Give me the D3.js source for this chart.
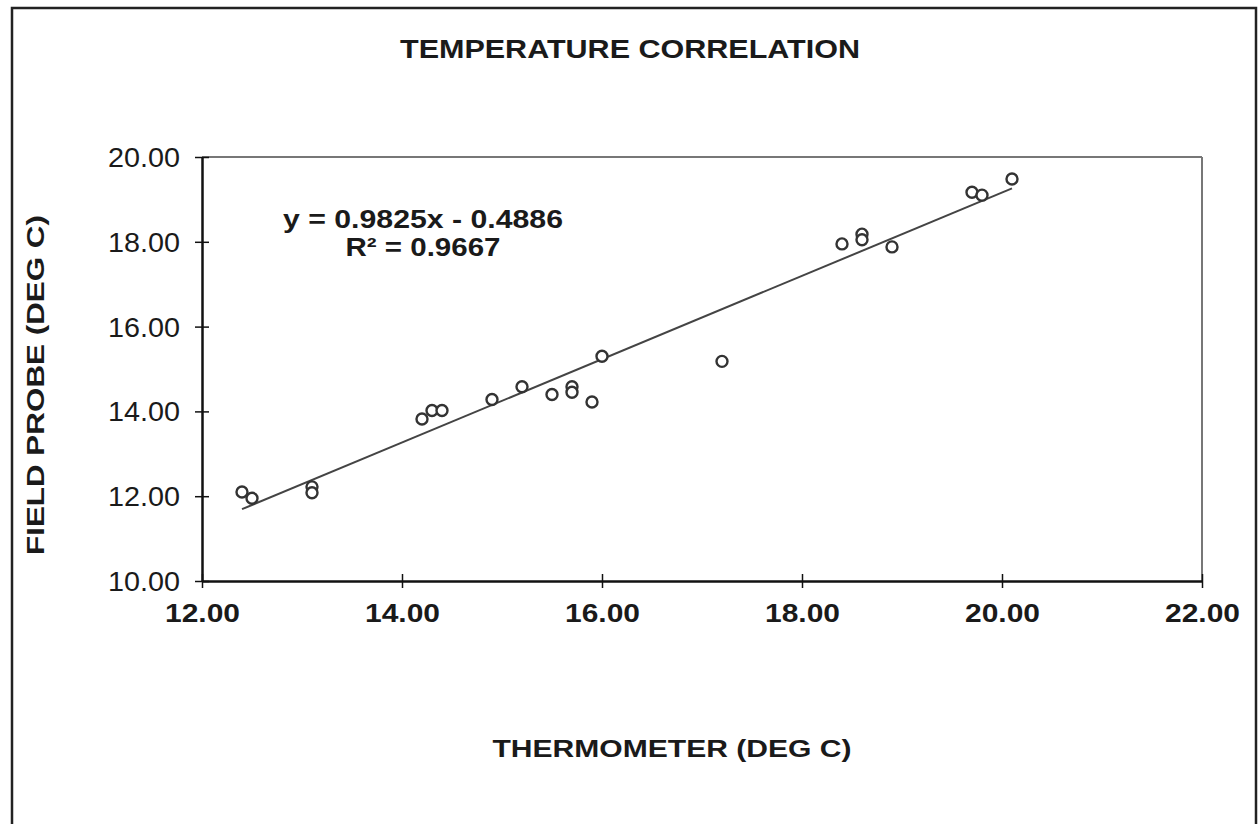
<!DOCTYPE html>
<html>
<head>
<meta charset="utf-8">
<script src="https://cdn.jsdelivr.net/npm/d3@7"></script>
<style>
  html, body { margin: 0; padding: 0; background: #fff; }
  svg { display: block; }
  text { font-family: Arial, "Liberation Sans", sans-serif; fill: #1a1a1a; }
</style>
</head>
<body>
<svg id="chart" width="1258" height="824"></svg>
<script>
// ---- data ----
const thermometer = [12.40, 12.50, 13.10, 13.10, 14.20, 14.30, 14.40, 14.90, 15.20, 15.50, 15.70, 15.70, 15.90, 16.00, 17.20, 18.40, 18.60, 18.60, 18.90, 19.70, 19.80, 20.10];
const fieldProbe  = [12.10, 11.95, 12.22, 12.08, 13.82, 14.02, 14.02, 14.28, 14.58, 14.40, 14.58, 14.45, 14.22, 15.30, 15.18, 17.95, 18.18, 18.05, 17.88, 19.17, 19.10, 19.48];
const xTicks = [12, 14, 16, 18, 20, 22];
const yTicks = [10, 12, 14, 16, 18, 20];
const slope = 0.9825, intercept = -0.4886, r2 = 0.9667;
const titleText = "TEMPERATURE CORRELATION";
const xLabel = "THERMOMETER (DEG C)";
const yLabel = "FIELD PROBE (DEG C)";

const svg = d3.select("#chart");
const plot = {left: 202, right: 1202, top: 157, bottom: 581};

const x = d3.scaleLinear().domain([12, 22]).range([plot.left, plot.right]);
const y = d3.scaleLinear().domain([10, 20]).range([plot.bottom, plot.top]);

// outer frame
svg.append("rect").attr("x", 12).attr("y", 8).attr("width", 1244).attr("height", 830)
  .attr("fill", "none").attr("stroke", "#222").attr("stroke-width", 2.5);

// title
svg.append("text").attr("x", 630).attr("y", 58).attr("text-anchor", "middle")
  .attr("font-size", 26).attr("font-weight", "bold")
  .attr("textLength", 460).attr("lengthAdjust", "spacingAndGlyphs").text(titleText);

// plot border top/right (grey)
svg.append("line").attr("x1", plot.left).attr("x2", plot.right).attr("y1", plot.top).attr("y2", plot.top)
  .attr("stroke", "#777").attr("stroke-width", 2);
svg.append("line").attr("x1", plot.right).attr("x2", plot.right).attr("y1", plot.top).attr("y2", plot.bottom)
  .attr("stroke", "#777").attr("stroke-width", 2);

// axes
const xAxis = d3.axisBottom(x).tickValues(xTicks).tickSizeInner(6).tickSizeOuter(0).tickFormat(d3.format(".2f"));
const yAxis = d3.axisLeft(y).tickValues(yTicks).tickSizeInner(6).tickSizeOuter(0).tickFormat(d3.format(".2f"));

const gx = svg.append("g").attr("transform", `translate(0,${plot.bottom})`).call(xAxis);
gx.select(".domain").attr("stroke", "#111").attr("stroke-width", 2.5);
gx.selectAll(".tick line").attr("y1", -7).attr("y2", 7).attr("stroke", "#111").attr("stroke-width", 1.5);
gx.selectAll(".tick text").attr("y", 32).attr("dy", "0.35em")
  .attr("font-size", 26).attr("font-weight", "bold").attr("fill", "#1a1a1a")
  .attr("textLength", 75).attr("lengthAdjust", "spacingAndGlyphs")
  .attr("font-family", "Arial, 'Liberation Sans', sans-serif");

const gy = svg.append("g").attr("transform", `translate(${plot.left},0)`).call(yAxis);
gy.select(".domain").attr("stroke", "#111").attr("stroke-width", 2.5);
gy.selectAll(".tick line").attr("x1", -7).attr("x2", 7).attr("stroke", "#111").attr("stroke-width", 1.5);
gy.selectAll(".tick text").attr("x", -22).attr("dy", "0.35em")
  .attr("font-size", 27).attr("fill", "#222")
  .attr("textLength", 72).attr("lengthAdjust", "spacingAndGlyphs")
  .attr("font-family", "Arial, 'Liberation Sans', sans-serif");

// trendline
const xMin = d3.min(thermometer), xMax = d3.max(thermometer);
svg.append("line")
  .attr("x1", x(xMin)).attr("y1", y(slope * xMin + intercept))
  .attr("x2", x(xMax)).attr("y2", y(slope * xMax + intercept))
  .attr("stroke", "#444").attr("stroke-width", 2);

// points
const pts = thermometer.map((t, i) => ({t, f: fieldProbe[i]}));
svg.append("g").selectAll("circle").data(pts).join("circle")
  .attr("cx", d => x(d.t)).attr("cy", d => y(d.f)).attr("r", 5.5)
  .attr("fill", "#fff").attr("stroke", "#333").attr("stroke-width", 2.4);

// equation
svg.append("text").attr("x", 423).attr("y", 228).attr("text-anchor", "middle")
  .attr("font-size", 25).attr("font-weight", "bold")
  .attr("textLength", 280).attr("lengthAdjust", "spacingAndGlyphs")
  .text(`y = ${slope}x - ${Math.abs(intercept)}`);
svg.append("text").attr("x", 423).attr("y", 256).attr("text-anchor", "middle")
  .attr("font-size", 25).attr("font-weight", "bold")
  .attr("textLength", 155).attr("lengthAdjust", "spacingAndGlyphs")
  .text(`R² = ${r2}`);

// axis titles
svg.append("text").attr("x", 672).attr("y", 757).attr("text-anchor", "middle")
  .attr("font-size", 24).attr("font-weight", "bold")
  .attr("textLength", 359).attr("lengthAdjust", "spacingAndGlyphs").text(xLabel);
svg.append("text").attr("transform", "translate(44,385) rotate(-90)").attr("text-anchor", "middle")
  .attr("font-size", 24).attr("font-weight", "bold")
  .attr("textLength", 340).attr("lengthAdjust", "spacingAndGlyphs").text(yLabel);
</script>
</body>
</html>
